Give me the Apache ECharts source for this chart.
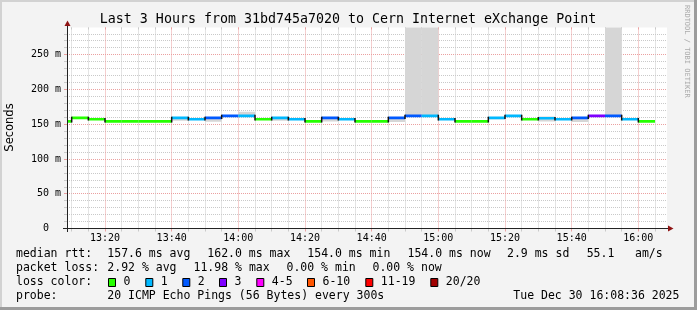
<!DOCTYPE html>
<html><head><meta charset="utf-8">
<script src="https://cdn.jsdelivr.net/npm/echarts@6/dist/echarts.min.js"></script>
<style>html,body{margin:0;padding:0;background:#f3f3f3}#c{width:697px;height:310px}</style>
</head><body><div id="c"></div>
<script>
// ---- data ----
const titleText = 'Last 3 Hours from 31bd745a7020 to Cern Internet eXchange Point';
const viewStart = '13:08:36';
const viewEnd = '16:08:36';
const slotMinutes = 5;
const slotStarts = ['13:05','13:10','13:15','13:20','13:25','13:30','13:35','13:40','13:45','13:50','13:55',
  '14:00','14:05','14:10','14:15','14:20','14:25','14:30','14:35','14:40','14:45','14:50','14:55',
  '15:00','15:05','15:10','15:15','15:20','15:25','15:30','15:35','15:40','15:45','15:50','15:55','16:00'];
const medianMs = [154,159,157,154,154,154,154,159,157,159,162,
  162,157,159,157,154,159,157,154,154,159,162,162,
  157,154,154,159,162,157,158.5,157,159,162,162,157,154];
const lossLevel = [0,0,0,0,0,0,0,1,1,2,2,
  1,0,1,1,0,2,1,0,0,2,2,1,
  1,0,0,1,1,0,1,1,2,3,2,1,0];
const smokeLow = [null,null,null,null,null,null,null,155,156,153.5,null,
  162,null,155,null,null,154,null,null,null,153,162,162,
  null,null,null,157,null,null,154,null,153,null,162,null,null];
const smokeHigh = [null,null,null,null,null,null,null,159,157,159,null,
  168,null,159,null,null,159,null,null,null,159,400,400,
  null,null,null,159,null,null,161,null,159,null,400,null,null];
const xTickLabels = ['13:20','13:40','14:00','14:20','14:40','15:00','15:20','15:40','16:00'];
const yTickValues = [0,50,100,150,200,250];
const yMaxMs = 289;
const lossColors = ['#26ff00','#00b8ff','#0059ff','#7e00ff','#ff00ff','#ff5500','#ff0000','#a10000'];
const lossNames = ['0','1','2','3','4-5','6-10','11-19','20/20'];
const rttLabel = 'median rtt:';
const rttStats = ['157.6 ms avg','162.0 ms max','154.0 ms min','154.0 ms now','2.9 ms sd','55.1','am/s'];
const lossLabel = 'packet loss:';
const lossStats = ['2.92 % avg','11.98 % max','0.00 % min','0.00 % now'];
const lossColorLabel = 'loss color:';
const probeLabel = 'probe:';
const probeText = '20 ICMP Echo Pings (56 Bytes) every 300s';
const dateText = 'Tue Dec 30 16:08:36 2025';

// ---- helpers ----
function toMin(s){const p=s.split(':').map(Number);return p[0]*60+p[1]+(p[2]||0)/60;}
function fmt(m){const h=Math.floor(m/60),mm=Math.round(m%60);return (h<10?'0':'')+h+':'+(mm<10?'0':'')+mm;}
const xMin = toMin(viewStart), xMax = toMin(viewEnd);
const majorX = xTickLabels.map(toMin);
const minorX = [];
for (let m = Math.ceil(xMin/5)*5; m < xMax; m += 5) if (majorX.indexOf(m) < 0) minorX.push(m);
const minorY = [];
for (let v = 10; v < yMaxMs; v += 10) if (yTickValues.indexOf(v) < 0) minorY.push(v);

const medianRows = slotStarts.map((s,i)=>{
  const st = toMin(s);
  return [st, st+slotMinutes, medianMs[i], lossLevel[i], i>0 ? medianMs[i-1] : medianMs[i]];
});
const smokeRows = [];
slotStarts.forEach((s,i)=>{ if (smokeLow[i]!=null){ const st=toMin(s); smokeRows.push([st, st+slotMinutes, smokeLow[i], smokeHigh[i]]); }});

const MONO = "'DejaVu Sans Mono', monospace";
const chart = echarts.init(document.getElementById('c'), null, {renderer:'canvas'});

const minorGrid = '#c9c9c9', majorGrid = '#eba0a0';
function xAx(vals, color, pos, showSplit, label, inside){
  return {type:'value', min:xMin, max:xMax, position:pos, axisLine:{show:false, onZero:false},
    axisTick:{show:true, customValues:vals, length:inside?2:3, inside:!!inside, lineStyle:{color:color}},
    axisLabel: label ? {show:true, customValues:vals, formatter:fmt, margin:5, color:'#000', fontFamily:MONO, fontSize:10} : {show:false},
    splitLine:{show:showSplit, lineStyle:{color:color, type:[1,1], width:1}}};
}
function yAx(vals, color, showSplit, label){
  return {type:'value', min:0, max:yMaxMs, position:'left', axisLine:{show:false, onZero:false},
    axisTick:{show:true, customValues:vals, length:3, lineStyle:{color:color}},
    axisLabel: label ? {show:true, customValues:vals, margin:6, color:'#000', fontFamily:MONO, fontSize:10,
      formatter:v => v===0 ? '0  ' : (v + ' m')} : {show:false},
    splitLine:{show:showSplit, lineStyle:{color:color, type:[1,1], width:1}}};
}

const txt = (x,y,t,extra) => Object.assign({type:'text', x:x, y:y, z:100,
  style:{text:t, fill:'#000', font:'11.5px '+MONO, textAlign:'left', textVerticalAlign:'middle'}}, extra||{});

const graphics = [
  // frame
  {type:'rect', shape:{x:0,y:0,width:697,height:2}, style:{fill:'#d2d2d2'}, z:100},
  {type:'rect', shape:{x:0,y:0,width:2,height:310}, style:{fill:'#d2d2d2'}, z:100},
  {type:'rect', shape:{x:694,y:0,width:3,height:310}, style:{fill:'#9c9c9c'}, z:100},
  {type:'rect', shape:{x:0,y:307,width:697,height:3}, style:{fill:'#9c9c9c'}, z:100},
  // title
  {type:'text', x:348, y:19.5, z:100, style:{text:titleText, fill:'#000', font:'13.3px '+MONO, textAlign:'center', textVerticalAlign:'middle'}},
  // y axis name
  {type:'text', x:10.5, y:127.5, rotation:Math.PI/2, z:100, style:{text:'Seconds', fill:'#000', font:"11.5px 'DejaVu Sans', sans-serif", textAlign:'center', textVerticalAlign:'middle'}},
  // watermark
  {type:'text', x:687, y:5, rotation:-Math.PI/2, z:100, style:{text:'RRDTOOL / TOBI OETIKER', fill:'#aaaaaa', font:'7px '+MONO, textAlign:'left', textVerticalAlign:'middle'}},
  // axes lines and arrows
  {type:'line', z:100, shape:{x1:67.5,y1:232,x2:67.5,y2:25}, style:{stroke:'#222', lineWidth:1}},
  {type:'line', z:100, shape:{x1:63,y1:228.5,x2:669,y2:228.5}, style:{stroke:'#222', lineWidth:1}},
  {type:'polygon', z:101, shape:{points:[[64.5,26],[70.5,26],[67.5,20.5]]}, style:{fill:'#8f1414'}},
  {type:'polygon', z:101, shape:{points:[[668,225.5],[668,231.5],[673.5,228.5]]}, style:{fill:'#8f1414'}},
  // legend rows
  txt(16,254.3,rttLabel), txt(107.3,254.3,rttStats[0]), txt(207.3,254.3,rttStats[1]), txt(307.3,254.3,rttStats[2]),
  txt(407.5,254.3,rttStats[3]), txt(507,254.3,rttStats[4]), txt(586.7,254.3,rttStats[5]), txt(635,254.3,rttStats[6]),
  txt(16,268.3,lossLabel), txt(107.3,268.3,lossStats[0]), txt(193.5,268.3,lossStats[1]), txt(286.5,268.3,lossStats[2]), txt(372.5,268.3,lossStats[3]),
  txt(16,282.3,lossColorLabel),
  txt(16,296,probeLabel), txt(107.3,296,probeText), txt(513.3,296,dateText)
];
const boxX = [108.5,145.8,182.8,219.5,256.8,307.5,365.8,430.8];
lossNames.forEach((n,i)=>{
  graphics.push({type:'rect', z:100, shape:{x:boxX[i], y:278.5, width:7, height:8}, style:{fill:lossColors[i], stroke:'#000', lineWidth:1}});
  graphics.push(txt(boxX[i]+15, 282.3, n));
});

chart.setOption({
  animation:false,
  backgroundColor:'#f3f3f3',
  grid:{left:67, top:27.5, width:600, height:201, show:true, backgroundColor:'#ffffff', borderWidth:0, containLabel:false},
  xAxis:[
    xAx(minorX, minorGrid, 'bottom', true, false),
    xAx(majorX, majorGrid, 'bottom', true, true),
    xAx(minorX, minorGrid, 'top', false, false, true),
    xAx(majorX, majorGrid, 'top', false, false, true)
  ],
  yAxis:[
    yAx(minorY, minorGrid, true, false),
    yAx(yTickValues, majorGrid, true, true)
  ],
  series:[
    {type:'custom', name:'smoke', xAxisIndex:0, yAxisIndex:0, clip:true, z:2, data:smokeRows,
     encode:{x:[0,1], y:[2,3]},
     renderItem:(params, api)=>{
       const a = api.coord([api.value(0), api.value(3)]);
       const b = api.coord([api.value(1), api.value(2)]);
       return {type:'rect', shape:{x:a[0], y:a[1], width:b[0]-a[0], height:b[1]-a[1]}, style:{fill:'#d6d6d6'}};
     }},
    {type:'custom', name:'median', xAxisIndex:0, yAxisIndex:0, clip:true, z:3, data:medianRows,
     encode:{x:[0,1], y:2},
     renderItem:(params, api)=>{
       const s=api.value(0), e=api.value(1), v=api.value(2), li=api.value(3), pv=api.value(4);
       const p1 = api.coord([s, v]), p2 = api.coord([e, v]);
       const ch = [{type:'line', shape:{x1:p1[0], y1:p1[1], x2:p2[0], y2:p2[1]}, style:{stroke:lossColors[li], lineWidth:2.6}}];
       if (pv !== v) {
         const p0 = api.coord([s, pv]);
         const y1 = Math.min(p0[1], p1[1]) - 1.2, y2 = Math.max(p0[1], p1[1]) + 1.2;
         ch.push({type:'line', shape:{x1:p1[0], y1:y1, x2:p1[0], y2:y2}, style:{stroke:'#111', lineWidth:1.5}});
       }
       return {type:'group', children:ch};
     }}
  ],
  graphic:graphics
});
</script>
</body></html>
